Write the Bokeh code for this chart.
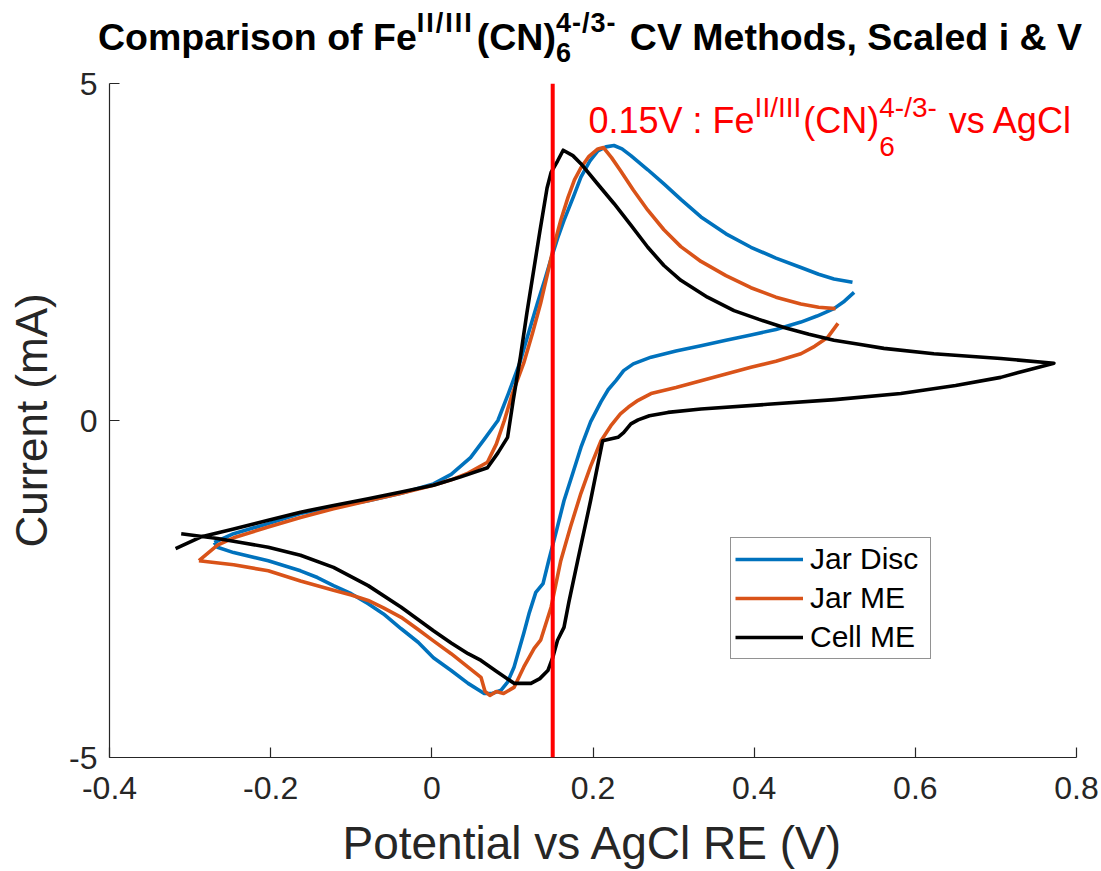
import numpy as np
from bokeh.plotting import figure
from bokeh.layouts import column
from bokeh.models import Range1d, FixedTicker, Span, Label, Legend, LegendItem, Div
from bokeh.embed import file_html
from bokeh.resources import INLINE

nan = float("nan")

# ---------------- data ----------------
series_names = ["Jar Disc", "Jar ME", "Cell ME"]

jar_disc_v = [-0.270, -0.246, -0.203, -0.163, -0.122, -0.079, -0.038, 0.002, 0.024, 0.048, 0.065, 0.082,
              0.095, 0.109, 0.120, 0.131, 0.140, 0.148, 0.156, 0.164, 0.176, 0.185, 0.196, 0.206,
              0.216, 0.226, 0.236, 0.247, 0.268, 0.288, 0.309, 0.334, 0.365, 0.396, 0.427, 0.458,
              0.480, 0.499, 0.522, nan,
              0.524, 0.512, 0.499, 0.478, 0.458, 0.427, 0.396, 0.365, 0.334, 0.303, 0.272, 0.250,
              0.238, 0.229, 0.219, 0.210, 0.197, 0.185, 0.175, 0.164, 0.155, 0.145, 0.138, 0.129,
              0.121, 0.114, 0.102, 0.094, 0.086, 0.075, 0.065, 0.045, 0.024, 0.002, -0.017, -0.038,
              -0.060, -0.079, -0.100, -0.122, -0.142, -0.163, -0.203, -0.246, -0.266, -0.270]
jar_disc_i = [-1.81, -1.68, -1.53, -1.38, -1.28, -1.19, -1.08, -0.94, -0.80, -0.55, -0.28, 0.00,
              0.40, 0.85, 1.30, 1.74, 2.08, 2.40, 2.70, 2.97, 3.33, 3.61, 3.85, 4.00,
              4.06, 4.08, 4.03, 3.93, 3.72, 3.51, 3.28, 3.02, 2.77, 2.57, 2.41, 2.27,
              2.17, 2.10, 2.05, nan,
              1.90, 1.77, 1.66, 1.55, 1.46, 1.35, 1.27, 1.19, 1.11, 1.03, 0.94, 0.84,
              0.74, 0.60, 0.46, 0.28, -0.02, -0.40, -0.78, -1.19, -1.62, -2.08, -2.42, -2.55,
              -2.85, -3.16, -3.66, -3.88, -4.00, -4.05, -4.05, -3.90, -3.71, -3.52, -3.29, -3.09,
              -2.87, -2.72, -2.57, -2.45, -2.33, -2.23, -2.08, -1.96, -1.88, -1.81]

jar_me_v = [-0.289, -0.266, -0.246, -0.203, -0.163, -0.122, -0.079, -0.038, 0.002, 0.024, 0.045, 0.069,
            0.080, 0.090, 0.100, 0.114, 0.125, 0.135, 0.143, 0.151, 0.160, 0.169, 0.177, 0.185,
            0.195, 0.206, 0.213, 0.223, 0.234, 0.250, 0.268, 0.288, 0.309, 0.334, 0.365, 0.396,
            0.427, 0.458, 0.480, 0.501, nan,
            0.504, 0.491, 0.475, 0.458, 0.427, 0.396, 0.365, 0.334, 0.303, 0.272, 0.256, 0.244,
            0.234, 0.222, 0.210, 0.197, 0.185, 0.172, 0.160, 0.148, 0.135, 0.127, 0.114, 0.102,
            0.089, 0.080, 0.072, 0.066, 0.061, 0.045, 0.024, 0.002, -0.017, -0.038, -0.060, -0.079,
            -0.100, -0.122, -0.163, -0.203, -0.246, -0.289]
jar_me_i = [-2.08, -1.85, -1.74, -1.58, -1.44, -1.31, -1.19, -1.08, -0.96, -0.88, -0.78, -0.62,
            -0.35, 0.00, 0.40, 0.85, 1.30, 1.74, 2.15, 2.57, 2.97, 3.31, 3.57, 3.75,
            3.92, 4.03, 4.05, 3.90, 3.71, 3.42, 3.12, 2.83, 2.58, 2.36, 2.15, 1.97,
            1.83, 1.73, 1.68, 1.66, nan,
            1.44, 1.23, 1.10, 0.99, 0.88, 0.79, 0.69, 0.59, 0.49, 0.40, 0.30, 0.20,
            0.10, -0.08, -0.30, -0.68, -1.08, -1.58, -2.08, -2.77, -3.26, -3.38, -3.66, -3.96,
            -4.05, -4.02, -4.08, -4.02, -3.81, -3.66, -3.46, -3.27, -3.10, -2.92, -2.78, -2.67,
            -2.59, -2.52, -2.38, -2.23, -2.14, -2.08]

cell_me_v = [-0.318, -0.287, -0.246, -0.203, -0.163, -0.122, -0.079, -0.038, 0.002, 0.035, 0.069, 0.082,
             0.094, 0.101, 0.110, 0.118, 0.126, 0.134, 0.143, 0.148, 0.156, 0.163, 0.175, 0.185,
             0.205, 0.226, 0.247, 0.268, 0.288, 0.309, 0.342, 0.375, 0.406, 0.437, 0.468, 0.499,
             0.530, 0.561, 0.623, 0.706, 0.772, 0.740, 0.706, 0.650, 0.582, 0.500, 0.417, 0.334,
             0.293, 0.270, 0.256, 0.247, 0.238, 0.231, 0.212, 0.197, 0.181, 0.170, 0.164, 0.156,
             0.150, 0.144, 0.134, 0.123, 0.102, 0.080, 0.061, 0.045, 0.024, 0.002, -0.038, -0.079,
             -0.122, -0.163, -0.203, -0.237, -0.266, -0.311]
cell_me_i = [-1.90, -1.73, -1.61, -1.48, -1.36, -1.26, -1.16, -1.06, -0.96, -0.84, -0.70, -0.48,
             -0.25, 0.30, 0.95, 1.60, 2.20, 2.80, 3.45, 3.68, 3.85, 4.01, 3.93, 3.81,
             3.52, 3.22, 2.90, 2.57, 2.30, 2.08, 1.83, 1.63, 1.50, 1.38, 1.28, 1.19,
             1.13, 1.07, 0.99, 0.92, 0.85, 0.75, 0.64, 0.52, 0.40, 0.31, 0.24, 0.17,
             0.12, 0.07, 0.01, -0.05, -0.18, -0.25, -0.30, -1.19, -2.08, -2.70, -3.07, -3.26,
             -3.52, -3.71, -3.83, -3.90, -3.90, -3.72, -3.56, -3.46, -3.30, -3.12, -2.77, -2.45,
             -2.18, -2.00, -1.88, -1.81, -1.75, -1.68]

e0_value = 0.15  # V, marked potential

x_ticks = [-0.4, -0.2, 0.0, 0.2, 0.4, 0.6, 0.8]
x_tick_labels = ["-0.4", "-0.2", "0", "0.2", "0.4", "0.6", "0.8"]
y_ticks = [-5, 0, 5]
y_tick_labels = ["-5", "0", "5"]

title_parts = ["Comparison of Fe", "II/III", "(CN)", "6", "4-/3-", " CV Methods, Scaled i & V"]
annot_parts = ["0.15V : Fe", "II/III", "(CN)", "6", "4-/3-", " vs AgCl"]
x_label = "Potential vs AgCl RE (V)"
y_label = "Current (mA)"

# ---------------- layout ----------------
W, H = 1101, 871
DIV_H = 48                    # title strip height (text may overflow into transparent figure border)
FL, FR, FT, FB = 109, 1076, 83, 757   # frame edges in page pixels
X0, X1 = -0.4, 0.8
Y0, Y1 = -5, 5
FONT = "Liberation Sans"
AX = "#262626"
colors = ["#0072BD", "#D95319", "#000000"]

REG = {' ': 278, '(': 333, ')': 333, '-': 333, '.': 278, '/': 278, ':': 278, ',': 278, '&': 667,
       'A': 667, 'C': 722, 'D': 722, 'E': 667, 'F': 611, 'I': 278, 'J': 500, 'M': 833, 'N': 722,
       'P': 667, 'R': 722, 'S': 667, 'V': 667, 'a': 556, 'c': 500, 'd': 556, 'e': 556, 'f': 278,
       'g': 556, 'h': 556, 'i': 222, 'l': 222, 'm': 833, 'n': 556, 'o': 556, 'p': 556, 'r': 333,
       's': 500, 't': 278, 'u': 556, 'v': 500}
BOLD = {' ': 278, '(': 333, ')': 333, '-': 333, '/': 278, ',': 278, '&': 722, 'C': 722, 'F': 611,
        'I': 278, 'M': 833, 'N': 722, 'S': 667, 'V': 667, 'a': 556, 'c': 556, 'd': 611, 'e': 556,
        'f': 333, 'h': 611, 'i': 278, 'l': 278, 'm': 889, 'n': 611, 'o': 611, 'p': 611, 'r': 389,
        's': 556, 't': 333}


def tw(s, size, bold=False, ls=0.0):
    tab = BOLD if bold else REG
    return sum(tab.get(c, 556) for c in s) / 1000.0 * size + ls * len(s)


# ---- title strip (HTML, absolutely placed pieces, laid out left to right) ----
T_SIZE, T_SUP, T_GAP = 37.5, 27, 3
LS_SUP1, LS_SUP2 = 2.0, 1.0
m1, s1, m2, sb, s2, m3 = title_parts
pieces = []
x = 0.0
pieces.append((m1, x, "main", 0)); x += tw(m1, T_SIZE, True)
pieces.append((s1, x, "sup", LS_SUP1)); x += tw(s1, T_SUP, True, LS_SUP1) + T_GAP
pieces.append((m2, x, "main", 0)); x += tw(m2, T_SIZE, True)
pieces.append((sb, x, "sub", 0))
pieces.append((s2, x, "sup", LS_SUP2)); x += max(tw(sb, T_SUP, True), tw(s2, T_SUP, True, LS_SUP2)) + T_GAP
pieces.append((m3, x, "main", 0)); x += tw(m3, T_SIZE, True)
t_left = 590 - x / 2
t_base = {"main": 50, "sup": 33, "sub": 63.5}
spans = []
for txt, off, kind, ls in pieces:
    fs = T_SIZE if kind == "main" else T_SUP
    top = t_base[kind] - 0.7465 * fs
    spans.append(f'<span style="position:absolute;left:{t_left + off:.1f}px;top:{top:.1f}px;font-size:{fs}px;'
                 f'line-height:0.8;letter-spacing:{ls}px;white-space:pre;">'
                 f'{txt.replace("&", "&amp;")}</span>')
title_html = (f'<div style="position:relative;width:{W}px;height:{DIV_H}px;'
              f'font-family:\'{FONT}\',Arial,sans-serif;font-weight:bold;color:#000000;">'
              + "".join(spans) + "</div>")
title_div = Div(text=title_html, width=W, height=DIV_H, margin=0, styles={"overflow": "visible"})

# ---- figure ----
p = figure(width=W, height=H - DIV_H, x_range=Range1d(X0, X1), y_range=Range1d(Y0, Y1),
           output_backend="svg", toolbar_location=None,
           min_border_left=FL, min_border_right=W - FR, min_border_top=FT - DIV_H,
           min_border_bottom=H - FB)
p.outline_line_color = None
p.grid.visible = False
p.background_fill_color = "white"
p.border_fill_color = None

for ax in (p.xaxis, p.yaxis):
    ax.axis_line_color = AX
    ax.axis_line_width = 1.2
    ax.major_tick_line_color = AX
    ax.major_tick_line_width = 1.2
    ax.major_tick_in = 10
    ax.major_tick_out = 0
    ax.minor_tick_line_color = None
    ax.major_label_text_font = FONT
    ax.major_label_text_font_size = "32px"
    ax.major_label_text_color = AX
    ax.axis_label_text_font = FONT
    ax.axis_label_text_font_style = "normal"
    ax.axis_label_text_color = AX

p.xaxis.axis_label_text_font_size = "46px"
p.yaxis.axis_label_text_font_size = "44px"
p.xaxis.ticker = FixedTicker(ticks=x_ticks)
p.xaxis.major_label_overrides = {t: s for t, s in zip(x_ticks, x_tick_labels)}
p.yaxis.ticker = FixedTicker(ticks=y_ticks)
p.yaxis.major_label_overrides = {t: s for t, s in zip(y_ticks, y_tick_labels)}
p.xaxis.axis_label = x_label
p.yaxis.axis_label = y_label
p.xaxis.major_label_standoff = 19
p.xaxis.axis_label_standoff = 15
p.yaxis.major_label_standoff = 12
p.yaxis.axis_label_standoff = 10

renderers = []
for v, i, c in [(jar_disc_v, jar_disc_i, colors[0]), (jar_me_v, jar_me_i, colors[1]),
                (cell_me_v, cell_me_i, colors[2])]:
    r = p.line(np.array(v, dtype=float), np.array(i, dtype=float), line_color=c, line_width=3.6,
               line_join="round")
    renderers.append(r)

p.add_layout(Span(location=e0_value, dimension="height", line_color="#FF0000", line_width=4))

legend = Legend(items=[LegendItem(label=n, renderers=[r]) for n, r in zip(series_names, renderers)],
                location=(621, 98), margin=0, padding=4, spacing=5,
                glyph_width=68, glyph_height=20, label_standoff=7, label_width=116,
                label_text_font=FONT, label_text_font_size="30px", label_text_color="#000000",
                border_line_color=AX, border_line_width=1, background_fill_color="white",
                background_fill_alpha=1.0)
p.add_layout(legend)


# ---- red annotation inside the frame ----
def sx(px):
    return X0 + (px - FL) / (FR - FL) * (X1 - X0)


def sy(py):  # py in page pixels
    return Y1 - (py - FT) / (FB - FT) * (Y1 - Y0)


A_SIZE, A_SUP, A_GAP = 36, 28, 2
a1, b1, a2, bs, b2, a3 = annot_parts
xo = 588.0
a_pieces = []
a_pieces.append((a1, xo, "main")); xo += tw(a1, A_SIZE)
a_pieces.append((b1, xo, "sup")); xo += tw(b1, A_SUP) + A_GAP
a_pieces.append((a2, xo, "main")); xo += tw(a2, A_SIZE)
a_pieces.append((bs, xo, "sub"))
a_pieces.append((b2, xo, "sup")); xo += max(tw(bs, A_SUP), tw(b2, A_SUP)) + A_GAP
lead = len(a3) - len(a3.lstrip(" "))
xo += tw(" " * lead, A_SIZE)
a_pieces.append((a3.lstrip(" "), xo, "main"))

a_center = {"main": 120, "sup": 107, "sub": 146}
for txt, px, kind in a_pieces:
    fs = A_SIZE if kind == "main" else A_SUP
    p.add_layout(Label(x=sx(px), y=sy(a_center[kind]), text=txt, text_font=FONT,
                       text_font_size=f"{fs}px", text_color="#FF0000", text_baseline="middle",
                       text_align="left"))

page = column(title_div, p, spacing=0, margin=0)
open("out.html", "w").write(file_html(page, INLINE))
